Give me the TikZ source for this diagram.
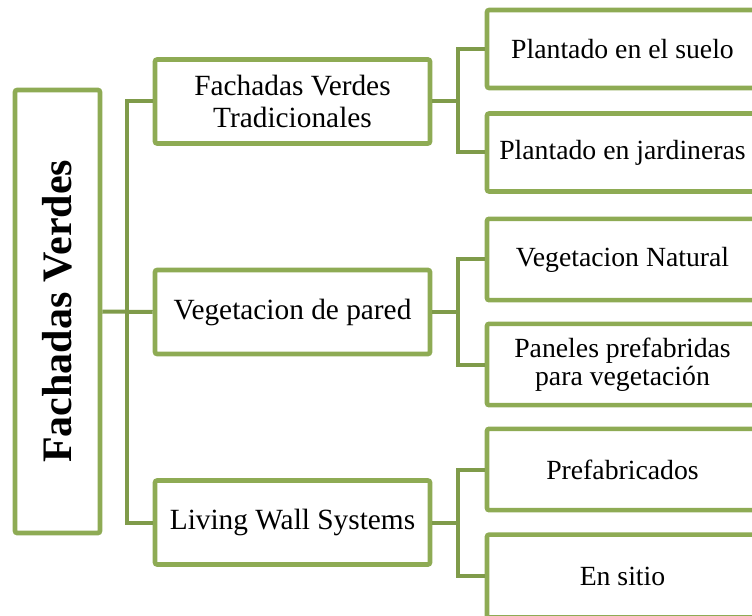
\documentclass[tikz,border=0pt]{standalone}
\usepackage{fontspec}
\setmainfont{Liberation Serif}
\definecolor{boxgreen}{HTML}{8EAB54}
\definecolor{linkgreen}{HTML}{7F9B4A}
\tikzset{
  px/.style={x=0.75pt,y=-0.75pt},
  gbox/.style={draw=boxgreen, line width=3.4pt, rounded corners=1.5pt, fill=white,
    inner sep=0pt, align=center, text=black},
  rootbox/.style={gbox, minimum width=63.75pt, minimum height=332.25pt},
  midbox/.style={gbox, minimum width=206.25pt, minimum height=63pt,
    font=\fontsize{22pt}{24pt}\selectfont},
  leafbox/.style={gbox, minimum width=203.25pt, minimum height=60pt,
    font=\fontsize{20.8pt}{21pt}\selectfont},
  link/.style={draw=linkgreen, line width=3pt, line cap=butt, line join=miter}
}
\begin{document}
\begin{tikzpicture}[px]
\useasboundingbox (0,0) rectangle (752,616);
\clip (0,0) rectangle (752,616);
% root
\node[rootbox] (root) at (57.5,311.5) {};
\node[rotate=90, font=\fontsize{31.5pt}{33pt}\selectfont\bfseries] (roott) at (57.5,311.5) {Fachadas Verdes};
% level 1
\node[midbox] (b1) at (292.5,101.5) {Fachadas Verdes\\Tradicionales};
\node[midbox] (b2) at (292.5,312) {Vegetacion de pared};
\node[midbox] (b3) at (292.5,522.5) {Living Wall Systems};
% leaves
\node[leafbox, minimum height=58.5pt] (l1) at (622.5,49) {Plantado en el suelo};
\node[leafbox, minimum height=58.5pt] (l2) at (622.5,152.5) {Plantado en jardineras};
\node[leafbox, minimum height=61pt] (l3) at (622.5,259.5) {Vegetacion Natural};
\node[leafbox, minimum height=61pt] (l4) at (622.5,364.5) {Paneles prefabridas\\para vegetación};
\node[leafbox, minimum height=61pt] (l5) at (622.5,469.5) {Prefabricados};
\node[leafbox, minimum height=62pt] (l6) at (622.5,576) {En sitio};
% junction coordinates
\coordinate (j0) at (127,312);
\coordinate (j1) at (458,101.5);
\coordinate (j2) at (458,312);
\coordinate (j3) at (458,522.5);
% root connectors
\draw[link] (root.east) -- (b2.west);
\draw[link] (b1.west) -| (j0) |- (b3.west);
% level 2 connectors
\draw[link] (b1.east) -- (j1);
\draw[link] (l1.west) -| (j1) |- (l2.west);
\draw[link] (b2.east) -- (j2);
\draw[link] (l3.west) -| (j2) |- (l4.west);
\draw[link] (b3.east) -- (j3);
\draw[link] (l5.west) -| (j3) |- (l6.west);
\end{tikzpicture}
\end{document}
